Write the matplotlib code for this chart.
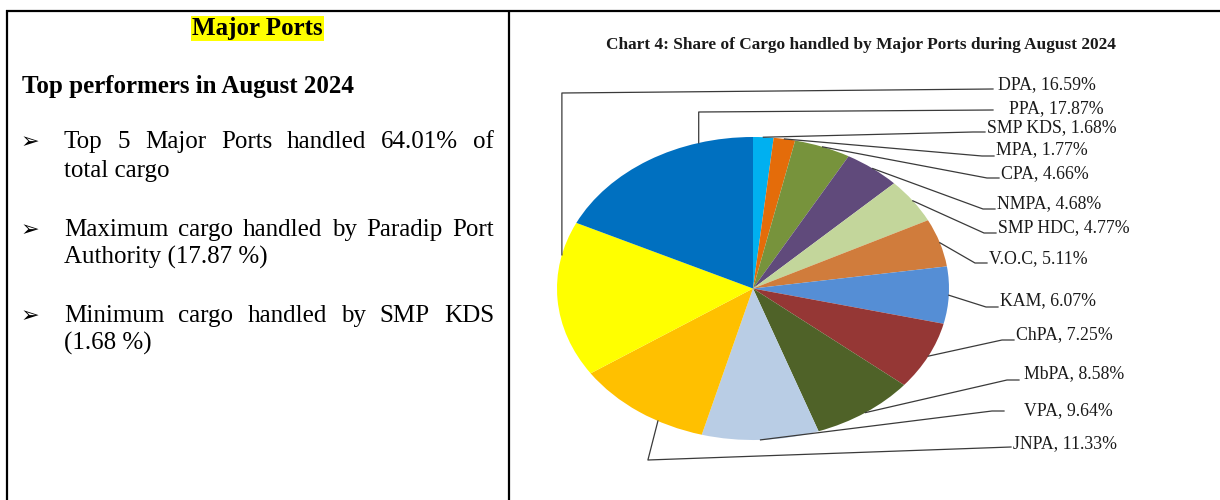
import matplotlib
matplotlib.use('Agg')
import matplotlib.pyplot as plt
import numpy as np

plt.rcParams['font.family'] = ['Liberation Serif', 'DejaVu Sans']

# data (clockwise from 12 o'clock)
ports = ['SMP KDS', 'MPA', 'CPA', 'NMPA', 'SMP HDC', 'V.O.C', 'KAM',
         'ChPA', 'MbPA', 'VPA', 'JNPA', 'DPA', 'PPA']
share = [1.68, 1.77, 4.66, 4.68, 4.77, 5.11, 6.07,
         7.25, 8.58, 9.64, 11.33, 16.59, 17.87]
colors = ['#00B0F0', '#E46C0A', '#77933C', '#604A7B', '#C3D69B', '#D07C3C', '#558ED5',
          '#953735', '#4F6228', '#B9CDE5', '#FFC000', '#FFFF00', '#0070C0']

box_title = 'Major Ports'
heading = 'Top performers in August 2024'
bullets = [
    ['Top 5 Major Ports handled 64.01% of', 'total cargo'],
    ['Maximum cargo handled by Paradip Port', 'Authority (17.87 %)'],
    ['Minimum cargo handled by SMP KDS', '(1.68 %)'],
]
chart_title = 'Chart 4: Share of Cargo handled by Major Ports during August 2024'

# label layout (pixels, from top-left)
label_pos = [(987, 128), (996, 150), (1001, 174), (997, 204), (998, 228), (989, 259), (1000, 301),
             (1016, 335), (1024, 374), (1024, 411), (1013, 444), (998, 85), (1009, 109)]
line_end = [(985, 132), (994, 156), (999, 178), (995, 209), (996, 233), (987, 263), (998, 307),
            (1014, 340), (1019, 380), (1004, 411), (1011, 447), (993, 89), (993, 110)]
anchor_frac = [0.5] * 10 + [0.34, 0.785, 0.75]
elbows = {10: (-10, 460), 11: (0, 93), 12: (0, 112)}

W, H = 1220, 500
fig = plt.figure(figsize=(W / 100, H / 100), dpi=100)
ax = fig.add_axes([0, 0, 1, 1])
ax.set_xlim(0, W)
ax.set_ylim(H, 0)
ax.axis('off')
ax.set_zorder(2)

# table borders
ax.plot([6, W], [11, 11], color='black', lw=1.6, solid_capstyle='butt')
ax.plot([6.5, 6.5], [10, H], color='black', lw=1.6, solid_capstyle='butt')
ax.plot([509, 509], [10, H], color='black', lw=1.6, solid_capstyle='butt')

fs = 18
ax.text(257.5, 35, box_title, fontsize=fs, fontweight='bold', ha='center', va='baseline',
        bbox=dict(facecolor='#FFFF00', edgecolor='none', pad=0.6))
ax.text(22, 93, heading, fontsize=fs, fontweight='bold', va='baseline')

renderer = fig.canvas.get_renderer()


def justified(line, x0, x1, y):
    words = line.split()
    texts = [ax.text(0, y, w, fontsize=fs, va='baseline') for w in words]
    widths = [t.get_window_extent(renderer).width for t in texts]
    gap = (x1 - x0 - sum(widths)) / (len(words) - 1)
    x = x0
    for t, wd in zip(texts, widths):
        t.set_x(x)
        x += wd + gap


baselines = [(148, 177), (236, 264), (322, 350)]
for (l1, l2), (b1, b2) in zip(bullets, baselines):
    ax.text(21, b1 - 6, '\u27a2', fontsize=16, family='DejaVu Sans', va='center')
    justified(l1, 64, 494, b1)
    ax.text(64, b2, l2, fontsize=fs, va='baseline')

# pie: the original chart is stretched sideways, so the pie is an ellipse
PIE_CX, PIE_CY, RX, RY = 753, 288.5, 196, 151.5
pax = fig.add_axes([(PIE_CX - RX) / W, (H - PIE_CY - RY) / H, 2 * RX / W, 2 * RY / H])
wedges, _ = pax.pie(share, colors=colors, startangle=90, counterclock=False,
                    wedgeprops=dict(linewidth=0))
pax.set_aspect('auto')
pax.set_xlim(-1, 1)
pax.set_ylim(-1, 1)
pax.axis('off')

ax.text(861, 45, chart_title, fontsize=12.4, fontweight='bold', ha='center', va='center',
        color='#1a1a1a')

inv = ax.transData.inverted()
for i, w in enumerate(wedges):
    ang = np.deg2rad(w.theta2 - anchor_frac[i] * (w.theta2 - w.theta1))
    axp, ayp = inv.transform(pax.transData.transform((np.cos(ang), np.sin(ang))))
    ex, ey = line_end[i]
    if i in elbows:
        dx, ey2 = elbows[i]
        xs = [axp, axp + dx, ex]
        ys = [ayp, ey2, ey]
    else:
        xs = [axp, ex - 12, ex]
        ys = [ayp, ey, ey]
    ax.plot(xs, ys, color='#3a3a3a', lw=0.9)
    lx, ly = label_pos[i]
    ax.text(lx, ly, f'{ports[i]}, {share[i]:.2f}%', fontsize=12.8, va='center', ha='left',
            color='#1a1a1a')

fig.savefig('out.png', dpi=100)
